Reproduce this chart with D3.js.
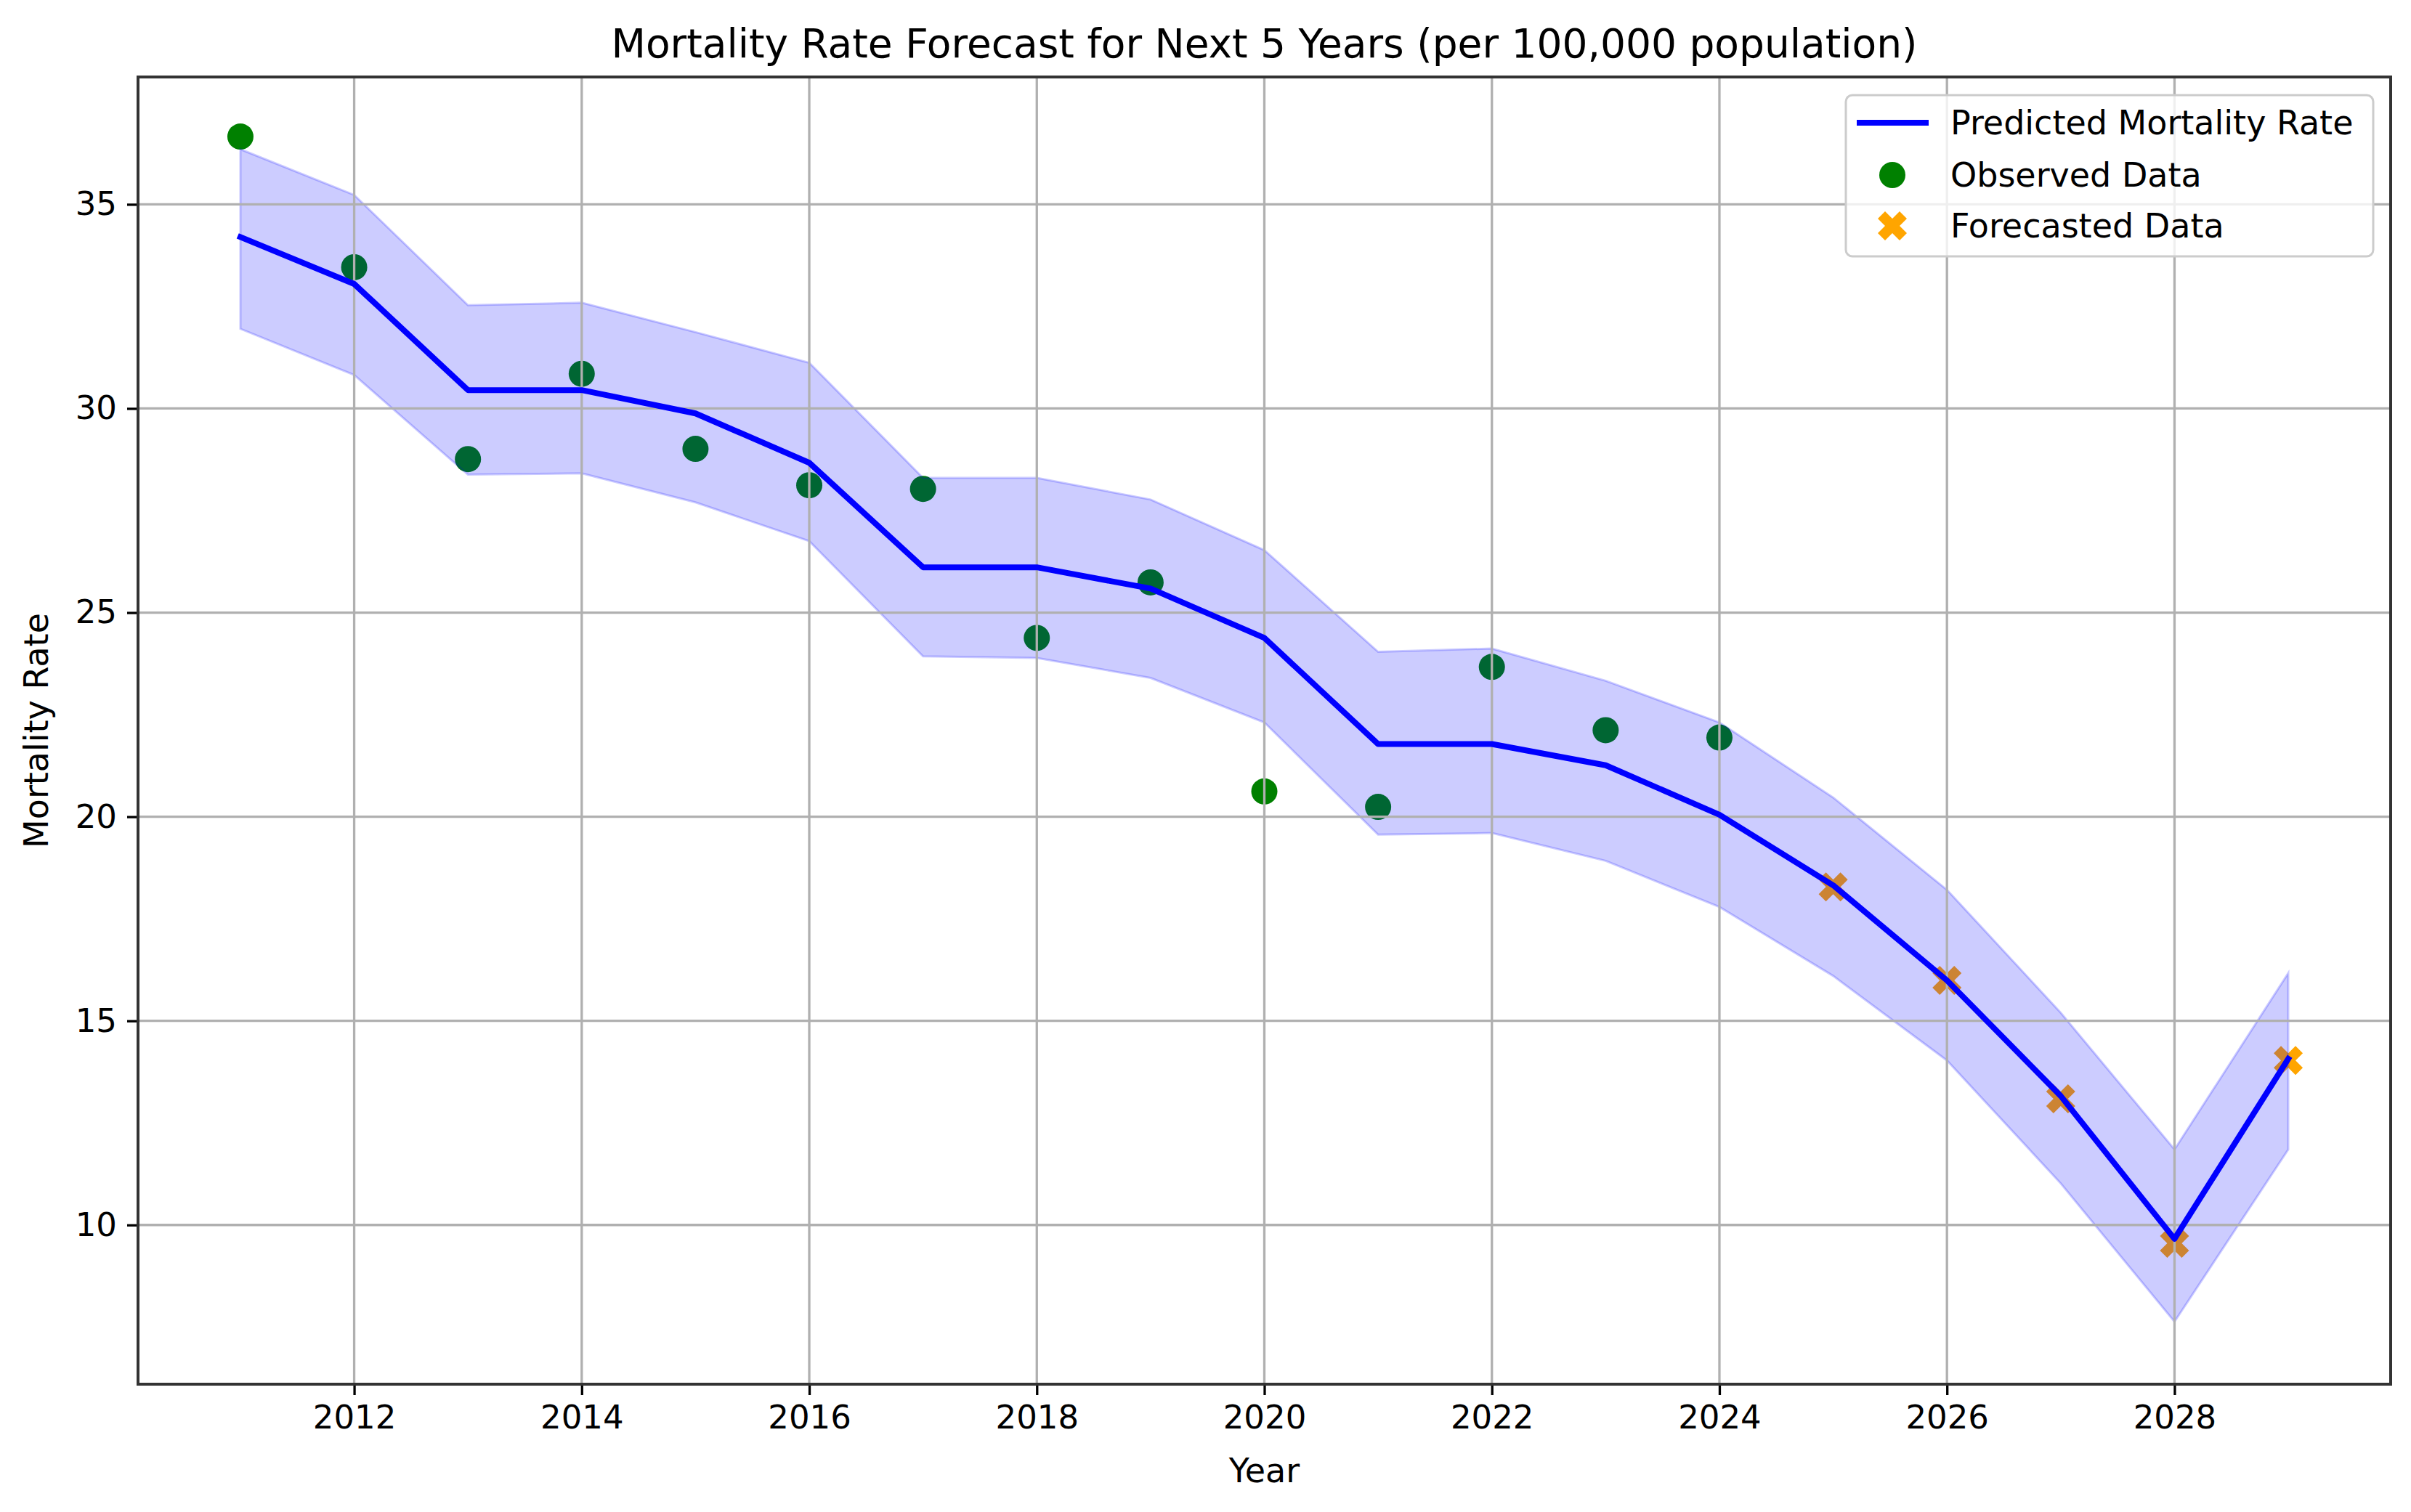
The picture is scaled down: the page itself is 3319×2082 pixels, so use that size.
<!DOCTYPE html>
<html>
<head>
<meta charset="utf-8">
<script src="https://cdn.jsdelivr.net/npm/d3@7"></script>
<style>
  html, body { margin: 0; padding: 0; background: #fff; }
  text { font-family: "DejaVu Sans", sans-serif; fill: #000; }
</style>
</head>
<body>
<svg id="chart" width="3319" height="2082"></svg>
<script>
// ---------- data ----------
const years = [2011, 2012, 2013, 2014, 2015, 2016, 2017, 2018, 2019, 2020,
               2021, 2022, 2023, 2024, 2025, 2026, 2027, 2028, 2029];
const predicted = [34.2, 33.05, 30.45, 30.45, 29.88, 28.67, 26.11, 26.11, 25.59, 24.38,
                   21.78, 21.78, 21.26, 20.05, 18.32, 15.99, 13.16, 9.66, 14.07];
const upperBound = [36.35, 35.23, 32.53, 32.59, 31.87, 31.12, 28.30, 28.30, 27.77, 26.53,
                    24.04, 24.12, 23.33, 22.31, 20.47, 18.21, 15.20, 11.85, 16.17];
const lowerBound = [31.95, 30.82, 28.38, 28.41, 27.70, 26.75, 23.93, 23.89, 23.40, 22.31,
                    19.56, 19.60, 18.92, 17.79, 16.10, 14.03, 11.02, 7.63, 11.85];
const observedYears = [2011, 2012, 2013, 2014, 2015, 2016, 2017, 2018, 2019, 2020, 2021, 2022, 2023, 2024];
const observedValues = [36.66, 33.46, 28.76, 30.85, 29.01, 28.12, 28.03, 24.38, 25.74, 20.62, 20.24, 23.67, 22.12, 21.94];
const forecastYears = [2025, 2026, 2027, 2028, 2029];
const forecastValues = [18.28, 15.99, 13.09, 9.55, 14.03];
const xTicks = [2012, 2014, 2016, 2018, 2020, 2022, 2024, 2026, 2028];
const yTicks = [10, 15, 20, 25, 30, 35];
const titleText = "Mortality Rate Forecast for Next 5 Years (per 100,000 population)";
const xLabel = "Year";
const yLabel = "Mortality Rate";
const legendLabels = ["Predicted Mortality Rate", "Observed Data", "Forecasted Data"];

// ---------- layout ----------
const svg = d3.select("#chart");
const L = 190, R = 3291, T = 106, B = 1906;
const x = d3.scaleLinear().domain([2010.1, 2029.9]).range([L, R]);
const y = d3.scaleLinear().domain([6.1, 38.12]).range([B, T]);
const fs = 46;

const band = years.map((yr, i) => ({yr, lo: lowerBound[i], hi: upperBound[i]}));
const line = years.map((yr, i) => ({yr, v: predicted[i]}));

const xPath = "M-10,-20L0,-10L10,-20L20,-10L10,0L20,10L10,20L0,10L-10,20L-20,10L-10,0L-20,-10Z";

// scatter (drawn first, under the band)
svg.append("g").selectAll("circle").data(observedYears).join("circle")
  .attr("cx", d => x(d)).attr("cy", (d, i) => y(observedValues[i]))
  .attr("r", 18).attr("fill", "#008000");
svg.append("g").selectAll("path").data(forecastYears).join("path")
  .attr("d", xPath)
  .attr("transform", (d, i) => `translate(${x(d)},${y(forecastValues[i])})`)
  .attr("fill", "#ffa500");

// confidence band
svg.append("path").datum(band)
  .attr("d", d3.area().x(d => x(d.yr)).y0(d => y(d.lo)).y1(d => y(d.hi)))
  .attr("fill", "rgba(0,0,255,0.2)")
  .attr("stroke", "rgba(0,0,255,0.2)").attr("stroke-width", 3);

// grid
const grid = svg.append("g");
grid.selectAll(".gx").data(xTicks).join("line")
  .attr("x1", d => x(d)).attr("x2", d => x(d)).attr("y1", T).attr("y2", B)
  .attr("stroke", "#b0b0b0").attr("stroke-width", 3.3);
grid.selectAll(".gy").data(yTicks).join("line")
  .attr("y1", d => y(d)).attr("y2", d => y(d)).attr("x1", L).attr("x2", R)
  .attr("stroke", "#b0b0b0").attr("stroke-width", 3.3);

// predicted line
svg.append("path").datum(line)
  .attr("d", d3.line().x(d => x(d.yr)).y(d => y(d.v)))
  .attr("fill", "none").attr("stroke", "#0000ff").attr("stroke-width", 8)
  .attr("stroke-linejoin", "round").attr("stroke-linecap", "square");

// axes
const xAxis = d3.axisBottom(x).tickValues(xTicks).tickFormat(d3.format("d"))
  .tickSize(15).tickPadding(14);
const gx = svg.append("g").attr("transform", `translate(0,${B})`).call(xAxis);
const yAxis = d3.axisLeft(y).tickValues(yTicks).tickFormat(d3.format("d"))
  .tickSize(15).tickPadding(14);
const gy = svg.append("g").attr("transform", `translate(${L},0)`).call(yAxis);
[gx, gy].forEach(g => {
  g.select(".domain").remove();
  g.selectAll(".tick line").attr("stroke", "#000").attr("stroke-width", 3.3);
  g.selectAll(".tick text").attr("font-size", 45).attr("fill", "#000")
    .style("font-family", "DejaVu Sans");
});

// spines
svg.append("rect").attr("x", L).attr("y", T).attr("width", R - L).attr("height", B - T)
  .attr("fill", "none").attr("stroke", "#333").attr("stroke-width", 4);

// labels
svg.append("text").attr("x", (L + R) / 2).attr("y", 79).attr("text-anchor", "middle")
  .attr("font-size", 55).text(titleText);
svg.append("text").attr("x", (L + R) / 2).attr("y", 2041).attr("text-anchor", "middle")
  .attr("font-size", fs).text(xLabel);
svg.append("text").attr("transform", `translate(66,${(T + B) / 2}) rotate(-90)`)
  .attr("text-anchor", "middle").attr("font-size", fs).text(yLabel);

// legend
const lg = svg.append("g");
lg.append("rect").attr("x", 2541).attr("y", 131).attr("width", 726).attr("height", 222)
  .attr("rx", 9).attr("fill", "rgba(255,255,255,0.8)").attr("stroke", "#cccccc").attr("stroke-width", 3);
const rowY = [169, 241, 311];
lg.append("line").attr("x1", 2556).attr("x2", 2655).attr("y1", rowY[0]).attr("y2", rowY[0])
  .attr("stroke", "#0000ff").attr("stroke-width", 8);
lg.append("circle").attr("cx", 2605).attr("cy", rowY[1]).attr("r", 18).attr("fill", "#008000");
lg.append("path").attr("d", xPath).attr("transform", `translate(2605,${rowY[2]})`).attr("fill", "#ffa500");
lg.selectAll(".lt").data(legendLabels).join("text")
  .attr("x", 2685).attr("y", (d, i) => rowY[i]).attr("dy", "0.35em")
  .attr("font-size", fs).text(d => d);
</script>
</body>
</html>
